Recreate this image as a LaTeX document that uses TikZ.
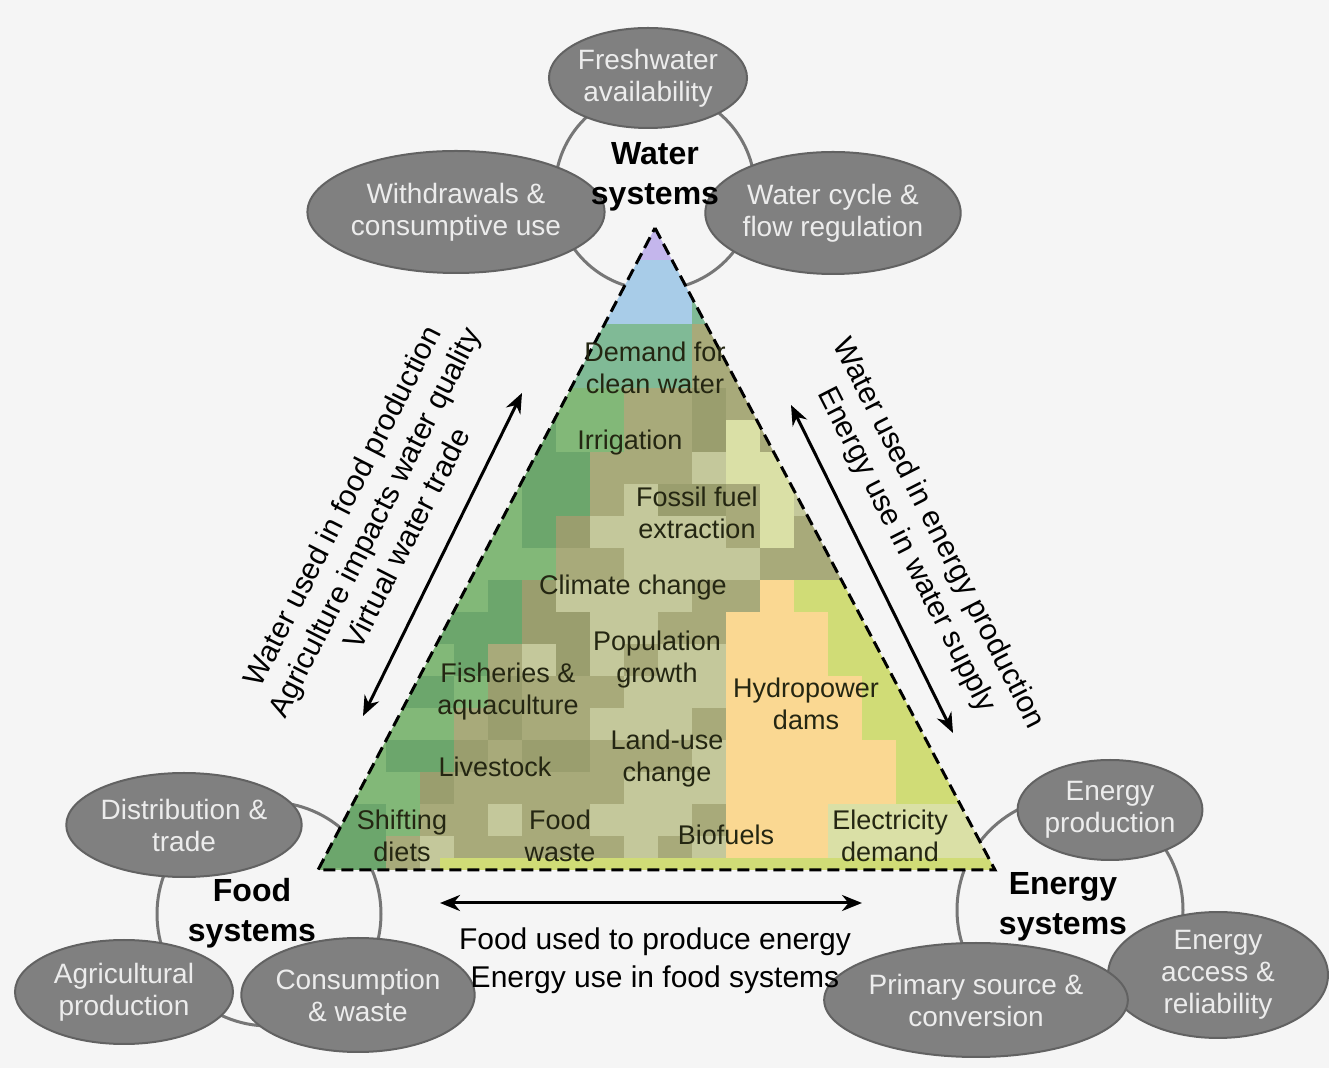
\documentclass[tikz,border=0pt]{standalone}
\usepackage{fontspec}
\setmainfont{Liberation Sans}
\usepackage{tikz}
\usetikzlibrary{
  arrows.meta,
  shapes.geometric
}
\definecolor{bgpaper}{RGB}{245,245,245}
\definecolor{ellgray}{RGB}{128,128,128}
\definecolor{ellline}{RGB}{98,98,98}
\definecolor{ellfont}{RGB}{236,236,236}
\definecolor{ringgray}{RGB}{118,118,118}
\definecolor{drivertext}{RGB}{36,38,18}
% pyramid mosaic tones
\definecolor{tone0}{RGB}{168,170,122}
\definecolor{tone1}{RGB}{196,182,236}
\definecolor{tone2}{RGB}{168,204,232}
\definecolor{tone3}{RGB}{128,186,150}
\definecolor{tone4}{RGB}{108,166,108}
\definecolor{tone5}{RGB}{250,216,146}
\definecolor{tone6}{RGB}{218,224,166}
\definecolor{tone7}{RGB}{196,200,155}
\definecolor{tone8}{RGB}{154,158,110}
\definecolor{tone9}{RGB}{208,220,118}
\definecolor{tone10}{RGB}{130,184,120}

\tikzset{
  sysring/.style={circle, draw=ringgray, line width=1.5pt, fill=bgpaper, inner sep=0pt},
  subsys/.style={ellipse, draw=ellline, line width=1pt, fill=ellgray, text=ellfont,
    inner sep=0pt, align=center, font=\fontsize{14}{16}\selectfont},
  systitle/.style={align=center, font=\fontsize{16}{20}\selectfont\bfseries},
  driver/.style={align=center, text=drivertext, font=\fontsize{13.5}{16}\selectfont},
  linklabel/.style={align=center, font=\fontsize{15}{18}\selectfont},
  link/.style={{Stealth[length=10pt,width=8pt]}-{Stealth[length=10pt,width=8pt]}, line width=1.5pt},
  pyredge/.style={line width=1.5pt, dash pattern=on 6pt off 3pt}
}

\begin{document}
\begin{tikzpicture}[x=0.5pt,y=-0.5pt]

  \useasboundingbox (0,0) rectangle (1329,1068);
  \fill[bgpaper] (0,0) rectangle (1329,1068);

  % system rings
  \node[sysring, minimum size=100pt] (waterring) at (655,190) {};
  \node[sysring, minimum size=112pt] (foodring) at (269,914) {};
  \node[sysring, minimum size=113pt] (energyring) at (1070,910) {};

  % water sub-systems
  \node[subsys, minimum width=97pt, minimum height=50pt] (fresh) at (648,78) {Freshwater\\availability};
  \node[subsys, minimum width=120pt, minimum height=61pt] (withdraw) at (456,212) {Withdrawals \&\\consumptive use};
  \node[subsys, minimum width=107pt, minimum height=61pt] (wcycle) at (833,213) {Water cycle \&\\flow regulation};

  % food sub-systems
  \node[subsys, minimum width=111pt, minimum height=52pt] (distrib) at (184,825) {Distribution \&\\trade};
  \node[subsys, minimum width=109pt, minimum height=52pt] (agri) at (124,992) {Agricultural\\production};
  \node[subsys, minimum width=95pt, minimum height=57pt] (consum) at (358,995) {Consumption\\\& waste};

  % energy sub-systems
  \node[subsys, minimum width=87pt, minimum height=50pt] (eprod) at (1110,810) {Energy\\production};
  \node[subsys, minimum width=110pt, minimum height=58pt] (eaccess) at (1218,975) {Energy\\access \&\\reliability};
  \node[subsys, minimum width=113pt, minimum height=57pt] (esource) at (976,1000) {Primary source \&\\conversion};

  % pyramid mosaic
  \pgfmathsetseed{42}
  \begin{scope}
    \clip (655,228) -- (995,870) -- (318,870) -- cycle;
    \foreach \r in {0,...,20}{
      \foreach \c in {0,...,19}{
        \pgfmathsetmacro{\xc}{335+34*\c}
        \pgfmathsetmacro{\yc}{244+32*\r}
        \pgfmathsetmacro{\dl}{\xc-655+0.525*(\yc-228)}
        \pgfmathsetmacro{\dr}{655+0.5265*(\yc-228)-\xc}
        \pgfmathsetmacro{\rv}{rnd}
        \pgfmathtruncatemacro{\tn}{\yc<262 ? 1 : (\yc<326 ? (\rv<0.3 ? 3 : 2) :
          (\yc<390 ? (\xc<680 ? 3 : 0) : (\dl<70 ? (\rv<0.5 ? 4 : 10) :
          ((\yc>800 && \xc>820) ? 6 : (((\yc>610 && \xc>735) || (\yc>570 && \xc>770)) ? (\dr<45 ? 9 : 5) :
          ((\dr<40 && \yc>420 && \rv<0.55) ? 6 : ((\xc>590 && \xc<740 && \yc>530) ? (\rv<0.3 ? 0 : 7) : (\rv<0.25 ? 8 : (\rv>0.9 ? 7 : 0)))))))))}
        \fill[fill=tone\tn] (\xc-17,\yc-16) rectangle ++(34,32);
      }
    }
    \fill[tone9] (440,858) rectangle (995,870);
  \end{scope}
  \draw[pyredge] (655,228) -- (995,870) -- (318,870) -- cycle;

  % drivers in the pyramid
  \node[driver] (demand) at (655,368) {Demand for\\clean water};
  \node[driver] (irrig) at (630,443) {Irrigation};
  \node[driver] (fossil) at (697,513) {Fossil fuel\\extraction};
  \node[driver] (climate) at (633,588) {Climate change};
  \node[driver] (popgrowth) at (657,660) {Population\\growth};
  \node[driver] (fisheries) at (508,692) {Fisheries \&\\aquaculture};
  \node[driver] (hydro) at (806,704) {Hydropower\\dams};
  \node[driver] (livestock) at (495,767) {Livestock};
  \node[driver] (landuse) at (667,759) {Land-use\\change};
  \node[driver] (shifting) at (402,836) {Shifting\\diets};
  \node[driver] (foodwaste) at (560,836) {Food\\waste};
  \node[driver] (biofuels) at (726,835) {Biofuels};
  \node[driver] (electric) at (890,836) {Electricity\\demand};

  % system titles
  \node[systitle] (watertitle) at (655,177) {Water\\systems};
  \node[systitle] (foodtitle) at (252,913) {Food\\systems};
  \node[systitle] (energytitle) at (1063,907) {Energy\\systems};

  % links between systems
  \coordinate (fwlow) at (363,716);
  \coordinate (fwhigh) at (522,393);
  \coordinate (ewhigh) at (791,405);
  \coordinate (ewlow) at (953,733);
  \coordinate (feleft) at (440,903);
  \coordinate (feright) at (862,903);
  \draw[link] (fwlow) -- (fwhigh);
  \draw[link] (ewhigh) -- (ewlow);
  \draw[link] (feleft) -- (feright);

  \node[linklabel, rotate=63] (fwlabel) at (374,522)
    {Water used in food production\\Agriculture impacts water quality\\Virtual water trade};
  \node[linklabel, rotate=-63] (ewlabel) at (922,542)
    {Water used in energy production\\Energy use in water supply};
  \node[linklabel, font=\fontsize{15}{19}\selectfont] (felabel) at (655,961)
    {Food used to produce energy\\Energy use in food systems};

\end{tikzpicture}
\end{document}
